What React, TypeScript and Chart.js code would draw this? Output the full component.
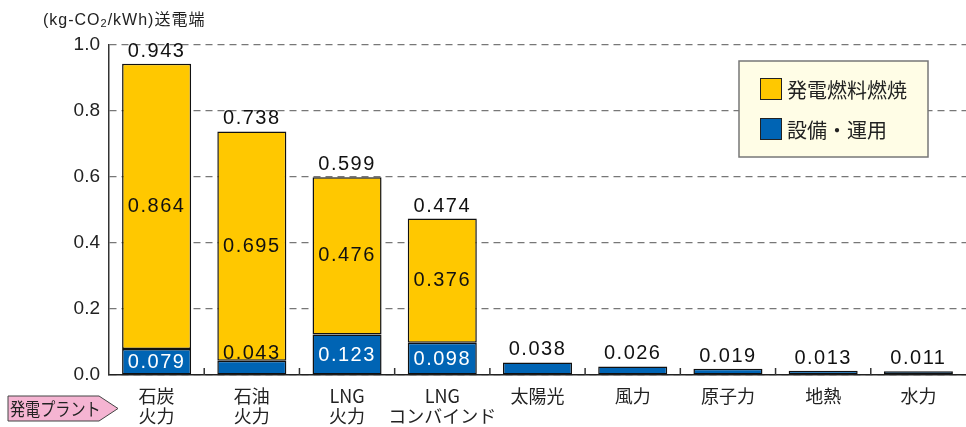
import React, { useEffect, useRef } from "react";
import { Chart, registerables } from "chart.js";

Chart.register(...registerables);

const categories: (string | string[])[] = [
  ["石炭", "火力"],
  ["石油", "火力"],
  ["LNG", "火力"],
  ["LNG", "コンバインド"],
  "太陽光",
  "風力",
  "原子力",
  "地熱",
  "水力",
];
const fuelValues: (number | null)[] = [0.864, 0.695, 0.476, 0.376, null, null, null, null, null];
const opsValues: number[] = [0.079, 0.043, 0.123, 0.098, 0.038, 0.026, 0.019, 0.013, 0.011];
const totalValues: number[] = [0.943, 0.738, 0.599, 0.474, 0.038, 0.026, 0.019, 0.013, 0.011];
const yTicks: number[] = [0, 0.2, 0.4, 0.6, 0.8, 1.0];
const fuelLabel = "発電燃料燃焼";
const opsLabel = "設備・運用";
const axisTitleParts = ["(kg-CO", "2", "/kWh)送電端"];
const plantLabel = "発電プラント";

const YELLOW = "#FFC800";
const BLUE = "#0064B4";
const FONT = "'Liberation Sans', 'Noto Sans CJK JP', sans-serif";
const JFONT = "'Noto Sans CJK JP', sans-serif";

const overlayPlugin = {
  id: "overlay",
  beforeDraw(chart: any) {
    chart.ctx.letterSpacing = "0px";
  },
  afterDatasetsDraw(chart: any) {
    const ctx = chart.ctx as CanvasRenderingContext2D;
    const area = chart.chartArea;
    const xs = chart.scales.x;
    const opsMeta = chart.getDatasetMeta(0);
    const fuelMeta = chart.getDatasetMeta(1);
    ctx.save();
    // inner ticks on x axis at category boundaries
    ctx.strokeStyle = "#333";
    ctx.lineWidth = 1.5;
    for (let i = 1; i < categories.length; i++) {
      const bx = (xs.getPixelForValue(i - 1) + xs.getPixelForValue(i)) / 2;
      ctx.beginPath();
      ctx.moveTo(bx, area.bottom);
      ctx.lineTo(bx, area.bottom - 7);
      ctx.stroke();
    }
    // value labels
    ctx.font = `20px ${FONT}`;
    (ctx as any).letterSpacing = "1.5px";
    ctx.textAlign = "center";
    for (let i = 0; i < categories.length; i++) {
      const ob = opsMeta.data[i];
      const fb = fuelMeta.data[i];
      const hasFuel = fuelValues[i] !== null && fuelValues[i]! > 0;
      const opsH = ob.base - ob.y;
      if (hasFuel) {
        ctx.fillStyle = "#111";
        ctx.textBaseline = "middle";
        ctx.fillText(fuelValues[i]!.toFixed(3), fb.x, (fb.y + fb.base) / 2);
        ctx.textBaseline = "alphabetic";
        ctx.fillText(totalValues[i].toFixed(3), fb.x, fb.y - 7);
        if (opsH >= 20) {
          ctx.fillStyle = "#fff";
          ctx.textBaseline = "middle";
          ctx.fillText(opsValues[i].toFixed(3), ob.x, (ob.y + ob.base) / 2 + 1);
        } else {
          ctx.fillStyle = "#111";
          ctx.textBaseline = "alphabetic";
          ctx.fillText(opsValues[i].toFixed(3), ob.x, ob.y - 2);
        }
      } else {
        ctx.fillStyle = "#111";
        ctx.textBaseline = "alphabetic";
        ctx.fillText(totalValues[i].toFixed(3), ob.x, ob.y - 7);
      }
    }
    ctx.restore();
  },
  afterDraw(chart: any) {
    const ctx = chart.ctx as CanvasRenderingContext2D;
    ctx.save();
    // legend box
    ctx.fillStyle = "#FFFDE6";
    ctx.fillRect(739, 61, 189, 96);
    ctx.strokeStyle = "#777";
    ctx.lineWidth = 1.5;
    ctx.strokeRect(739, 61, 189, 96);
    const items = [
      { label: fuelLabel, color: YELLOW, y: 78 },
      { label: opsLabel, color: BLUE, y: 118 },
    ];
    (ctx as any).letterSpacing = "0px";
    for (const it of items) {
      ctx.fillStyle = it.color;
      ctx.fillRect(760, it.y, 22, 22);
      ctx.strokeStyle = "#222";
      ctx.lineWidth = 1;
      ctx.strokeRect(760.5, it.y + 0.5, 21, 21);
      ctx.fillStyle = "#222";
      ctx.font = `20px ${JFONT}`;
      ctx.textAlign = "left";
      ctx.textBaseline = "middle";
      ctx.fillText(it.label, 787, it.y + 12);
    }
    // axis title
    (ctx as any).letterSpacing = "1px";
    ctx.fillStyle = "#222";
    ctx.textBaseline = "alphabetic";
    let tx = 43;
    const by = 25;
    ctx.font = `16px ${FONT}`;
    ctx.fillText(axisTitleParts[0], tx, by);
    tx += ctx.measureText(axisTitleParts[0]).width;
    ctx.font = `11px ${FONT}`;
    ctx.fillText(axisTitleParts[1], tx, by + 2);
    tx += ctx.measureText(axisTitleParts[1]).width;
    ctx.font = `16px ${FONT}`;
    ctx.fillText(axisTitleParts[2], tx, by);
    // pink arrow label
    ctx.beginPath();
    ctx.moveTo(8, 396);
    ctx.lineTo(99, 396);
    ctx.lineTo(118, 408.5);
    ctx.lineTo(99, 421);
    ctx.lineTo(8, 421);
    ctx.closePath();
    ctx.fillStyle = "#F5B4D2";
    ctx.fill();
    ctx.strokeStyle = "#444";
    ctx.lineWidth = 1;
    ctx.stroke();
    (ctx as any).letterSpacing = "0px";
    ctx.fillStyle = "#222";
    ctx.font = `18px ${JFONT}`;
    ctx.textBaseline = "middle";
    ctx.textAlign = "left";
    ctx.translate(10, 409);
    ctx.scale(0.84, 1);
    ctx.fillText(plantLabel, 0, 0);
    ctx.restore();
  },
};

export default function App() {
  const ref = useRef<HTMLCanvasElement | null>(null);
  useEffect(() => {
    document.body.style.margin = "0";
    if (!ref.current) return;
    const chart = new Chart(ref.current, {
      type: "bar",
      data: {
        labels: categories as any,
        datasets: [
          {
            label: opsLabel,
            data: opsValues,
            backgroundColor: BLUE,
            borderColor: "#111",
            borderWidth: 1.5,
            borderSkipped: false,
            categoryPercentage: 1,
            barPercentage: 0.725,
          },
          {
            label: fuelLabel,
            data: fuelValues as any,
            backgroundColor: YELLOW,
            borderColor: "#111",
            borderWidth: 1.5,
            borderSkipped: false,
            categoryPercentage: 1,
            barPercentage: 0.725,
          },
        ],
      },
      options: {
        animation: false,
        responsive: true,
        maintainAspectRatio: false,
        layout: { padding: { top: 45, left: 0, right: 0, bottom: 0 } },
        plugins: { legend: { display: false }, tooltip: { enabled: false } },
        scales: {
          x: {
            stacked: true,
            grid: { display: false, drawTicks: false },
            border: { display: true, color: "#222", width: 1.5 },
            ticks: {
              color: "#222",
              font: { family: JFONT, size: 18, lineHeight: 1.1 },
              padding: 11,
              maxRotation: 0,
              autoSkip: false,
            },
            afterFit: (s: any) => {
              s.height = 52;
            },
          },
          y: {
            stacked: true,
            min: 0,
            max: 1,
            afterBuildTicks: (s: any) => {
              s.ticks = yTicks.map((v) => ({ value: v }));
            },
            grid: { color: "#777", lineWidth: 1.2, drawTicks: false },
            border: { display: true, color: "#333", width: 1.5, dash: [7, 5] },
            ticks: {
              color: "#222",
              font: { family: FONT, size: 19 },
              padding: 9,
              callback: (v: any) => Number(v).toFixed(1),
            },
            afterFit: (s: any) => {
              s.width = 109;
            },
          },
        },
      },
      plugins: [overlayPlugin],
    });
    return () => chart.destroy();
  }, []);
  return (
    <div style={{ position: "relative", width: 966, height: 427, background: "#fff" }}>
      <canvas ref={ref} />
    </div>
  );
}
